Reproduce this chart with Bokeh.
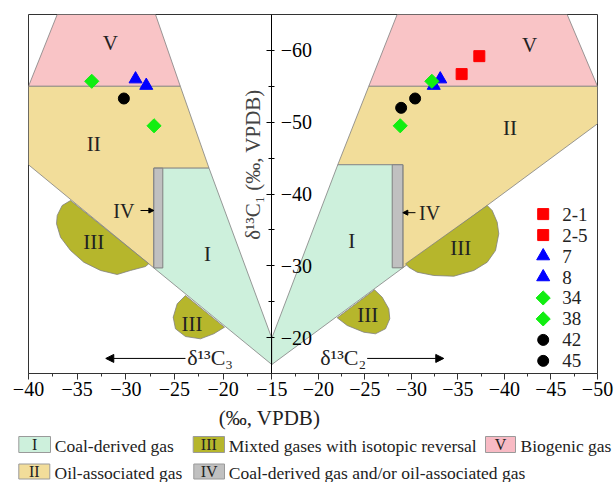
import numpy as np
from bokeh.plotting import figure
from bokeh.layouts import column
from bokeh.models import Range1d, FixedTicker, Label, Arrow, NormalHead, ColumnDataSource
from bokeh.core.properties import value
from bokeh.embed import file_html
from bokeh.resources import INLINE

FONT = "Liberation Serif"

# --- samples (per mil, VPDB) ---
samples = ["2-1", "2-5", "7", "8", "34", "38", "42", "45"]
d13c1 = [-56.7, -59.2, -56.0, -55.1, -55.7, -49.5, -53.3, -52.0]
d13c2 = [-35.4, -37.3, -33.1, -32.4, -32.2, -28.8, -30.4, -28.9]
d13c3 = [np.nan, np.nan, -29.0, -27.9, -33.5, -27.1, -30.2, np.nan]

# --- genetic zones, left panel: d13C3 vs d13C1 ---
vL_c3 = [-37.05, -26.95, -24.4, -40.0]
vL_c1 = [-65.0, -65.0, -55.0, -55.0]
iiL_c3 = [-40.0, -24.4, -21.45, -27.12, -27.12, -40.0]
iiL_c1 = [-55.0, -55.0, -43.6, -43.6, -29.7, -44.07]
iL_c3 = [-27.12, -21.45, -15.0, -15.0, -27.12]
iL_c1 = [-43.6, -43.6, -19.92, -16.25, -29.7]
ivL_c3 = [-27.12, -26.2]
ivL_c1 = [-43.6, -29.7]
iiiL1_c3 = [-35.68, -36.54, -37.05, -37.12, -36.71, -35.68, -34.32, -32.6, -30.89, -29.52, -27.98, -27.64]
iiiL1_c1 = [-39.09, -38.4, -37.01, -35.85, -33.98, -32.13, -30.5, -29.35, -28.79, -29.35, -29.9, -30.29]
iiiL2_c3 = [-23.87, -24.72, -25.13, -24.9, -23.87, -22.33, -20.96, -19.86]
iiiL2_c1 = [-25.86, -24.71, -22.84, -21.23, -20.15, -19.83, -20.53, -21.45]

# --- genetic zones, right panel: d13C2 vs d13C1 ---
vR_c2 = [-28.47, -46.74, -50.0, -25.42]
vR_c1 = [-65.0, -65.0, -55.0, -55.0]
iiR_c2 = [-25.42, -50.0, -50.0, -29.08, -29.08, -22.09]
iiR_c1 = [-55.0, -55.0, -49.78, -29.72, -44.07, -44.07]
iR_c2 = [-22.09, -29.08, -29.08, -15.0, -15.0]
iR_c1 = [-44.07, -44.07, -29.72, -16.25, -19.92]
ivR_c2 = [-27.94, -29.08]
ivR_c1 = [-44.07, -29.72]
iiiR1_c2 = [-29.37, -29.72, -30.62, -32.41, -34.56, -36.71, -38.15, -39.04, -39.39, -39.22, -38.68, -38.15]
iiiR1_c1 = [-30.28, -29.8, -29.11, -28.65, -28.55, -29.35, -30.5, -32.13, -34.46, -36.07, -37.7, -38.4]
iiiR2_c2 = [-26.04, -26.86, -27.57, -27.68, -27.22, -26.14, -24.89, -23.1, -22.03]
iiiR2_c1 = [-26.66, -25.63, -24.01, -22.62, -21.23, -20.53, -20.75, -21.69, -22.76]

# ticks
left_ticks = [-40, -35, -30, -25, -20, -15]
right_ticks = [-20, -25, -30, -35, -40, -45, -50]
y_ticks = [-20, -30, -40, -50, -60]
y_minor = [-25, -35, -45, -55]

# bottom legend
zone_numerals = ["I", "III", "V", "II", "IV"]
zone_names = ["Coal-derived gas", "Mixted gases with isotopic reversal", "Biogenic gas",
              "Oil-associated gas", "Coal-derived gas and/or oil-associated gas"]

C_I = "#CDF0DC"
C_II = "#F2DD9A"
C_III = "#B6B62C"
C_IV = "#C0C0C0"
C_V = "#F9C4C6"
zone_colors = [C_I, C_III, "#F8BAC4", C_II, C_IV]
EDGE = "#808080"

# composite x axis: left half is d13C3 (-40..-15), right half d13C2 (-15..-50)
SPLIT = 243.3
SL = SPLIT / 25.0
SR = 325.7 / 35.0
U_MAX = SPLIT + 35.0 * SR


def xl(v):
    return [(a + 40.0) * SL for a in np.atleast_1d(v)]


def xr(v):
    return [SPLIT + (-15.0 - a) * SR for a in np.atleast_1d(v)]


p = figure(width=614, height=406, x_range=Range1d(0, U_MAX), y_range=Range1d(-15, -65),
           output_backend="svg", toolbar_location=None, y_axis_location="right",
           min_border_left=28, min_border_right=17, min_border_top=14, min_border_bottom=33)
p.frame_align = False
p.grid.visible = False
p.outline_line_color = "#333333"
p.outline_line_width = 1

# x axis
xt = xl(left_ticks) + xr(right_ticks)
xm = xl([-37.5, -32.5, -27.5, -22.5, -17.5]) + xr([-17.5, -22.5, -27.5, -32.5, -37.5, -42.5, -47.5])
p.xaxis.ticker = FixedTicker(ticks=xt, minor_ticks=xm)
labs = {}
for u, v in zip(xt, left_ticks + right_ticks):
    labs[u] = "\u2212" + str(abs(v))
p.xaxis.major_label_overrides = labs
p.xaxis.major_tick_out = 6
p.xaxis.major_tick_in = 0
p.xaxis.minor_tick_out = 3
p.xaxis.minor_tick_in = 0
p.xaxis.major_label_standoff = 2
p.xaxis.axis_line_color = "#333333"
p.xaxis.major_tick_line_color = "#333333"
p.xaxis.minor_tick_line_color = "#333333"

# y axis on the split line
p.yaxis.fixed_location = SPLIT
p.yaxis.ticker = FixedTicker(ticks=y_ticks, minor_ticks=y_minor)
p.yaxis.major_label_overrides = {v: "\u2212" + str(abs(v)) for v in y_ticks}
p.yaxis.major_tick_in = 5
p.yaxis.major_tick_out = 3
p.yaxis.minor_tick_in = 3
p.yaxis.minor_tick_out = 3
p.yaxis.major_label_standoff = 6
p.yaxis.axis_line_color = "black"

for ax in (p.xaxis, p.yaxis):
    ax.major_label_text_font = FONT
    ax.major_label_text_font_size = "20px"
    ax.major_label_text_color = "black"

# zones
def zone(xs, ys, color):
    p.patch(xs, ys, fill_color=color, line_color=EDGE, line_width=0.8)

zone(xl(vL_c3), vL_c1, C_V)
zone(xl(iiL_c3), iiL_c1, C_II)
zone(xl(iL_c3), iL_c1, C_I)
zone(xl(iiiL1_c3), iiiL1_c1, C_III)
zone(xl(iiiL2_c3), iiiL2_c1, C_III)
zone(xr(vR_c2), vR_c1, C_V)
zone(xr(iiR_c2), iiR_c1, C_II)
zone(xr(iR_c2), iR_c1, C_I)
zone(xr(iiiR1_c2), iiiR1_c1, C_III)
zone(xr(iiiR2_c2), iiiR2_c1, C_III)

bx = xl(ivL_c3)
p.quad(left=bx[0], right=bx[1], top=ivL_c1[0], bottom=ivL_c1[1], fill_color=C_IV, line_color=EDGE)
bx = xr(ivR_c2)
p.quad(left=bx[0], right=bx[1], top=ivR_c1[0], bottom=ivR_c1[1], fill_color=C_IV, line_color=EDGE)


def lab(x, y, text, size="21px", align="center"):
    p.add_layout(Label(x=x, y=y, text=text, text_font=FONT, text_font_size=size,
                       text_align=align, text_baseline="middle", text_color="#222222"))

# zone numerals
lab(xl(-31.6)[0], -61.1, "V")
lab(xl(-33.3)[0], -46.9, "II")
lab(xl(-33.3)[0], -33.3, "III")
lab(xl(-21.6)[0], -31.6, "I")
lab(xl(-23.2)[0], -21.9, "III")
lab(xr(-42.7)[0], -60.7, "V")
lab(xr(-40.6)[0], -49.2, "II")
lab(xr(-23.6)[0], -33.5, "I")
lab(xr(-35.3)[0], -32.5, "III")
lab(xr(-25.3)[0], -23.1, "III")
lab(xl(-30.2)[0], -37.7, "IV", "20px")
lab(xr(-31.95)[0], -37.4, "IV", "20px")


def arrow(x0, x1, y, size):
    p.add_layout(Arrow(end=NormalHead(size=size, fill_color="black", line_color="black"),
                       x_start=x0, y_start=y, x_end=x1, y_end=y, line_color="black", line_width=1))

arrow(xl(-28.49)[0], xl(-27.12)[0], -37.7, 5)
arrow(xr(-30.44)[0], xr(-29.08)[0], -37.4, 5)
arrow(xl(-23.87)[0], xl(-32.06)[0], -17.1, 8)
arrow(xr(-25.25)[0], xr(-33.48)[0], -17.1, 8)
lab(xl(-23.7)[0], -17.2, "\u03b4\u00b9\u00b3C\u2083", "22px", "left")
lab(xr(-20.2)[0], -17.2, "\u03b4\u00b9\u00b3C\u2082", "22px", "left")

# y axis title
p.add_layout(Label(x=SPLIT, y=-44.1, x_offset=-19, text="\u03b4\u00b9\u00b3C\u2081 (\u2030, VPDB)",
                   angle=90, angle_units="deg", text_font=FONT, text_font_size="21px",
                   text_align="center", text_baseline="middle"))

# sample points
m_type = ["square", "square", "triangle", "triangle", "square", "square", "circle", "circle"]
m_angle = [0, 0, 0, 0, np.pi / 4, np.pi / 4, 0, 0]
m_color = ["#FF0000", "#FF0000", "#0000FF", "#0000FF", "#11EE11", "#11EE11", "black", "black"]
m_size = [11, 11, 13, 13, 10, 10, 11, 11]

right = ColumnDataSource(dict(x=xr(d13c2), y=d13c1, m=m_type, a=m_angle, c=m_color, s=m_size))
keep = [i for i in range(len(samples)) if not np.isnan(d13c3[i])]
left = ColumnDataSource(dict(x=xl([d13c3[i] for i in keep]), y=[d13c1[i] for i in keep],
                             m=[m_type[i] for i in keep], a=[m_angle[i] for i in keep],
                             c=[m_color[i] for i in keep], s=[m_size[i] for i in keep]))
for src in (left, right):
    p.scatter(x="x", y="y", marker="m", angle="a", size="s", fill_color="c", line_color="c", source=src)

# sample legend
ly = [-37.2 + 2.92 * i for i in range(len(samples))]
leg_src = ColumnDataSource(dict(x=[514.7] * len(samples), y=ly, m=m_type, a=m_angle, c=m_color,
                                s=m_size, t=samples, tx=[533.7] * len(samples)))
p.scatter(x="x", y="y", marker="m", angle="a", size="s", fill_color="c", line_color="c", source=leg_src)
p.text(x="tx", y="y", text="t", source=leg_src, text_font=value(FONT), text_font_size="19px",
       text_baseline="middle", text_align="left", text_color="#222222")

# x axis title and zone legend below (coordinates in page pixels)
lg = figure(width=614, height=76, x_range=Range1d(0, 614), y_range=Range1d(76, 0),
            output_backend="svg", toolbar_location=None, x_axis_type=None, y_axis_type=None,
            min_border=0)
lg.frame_align = False
lg.outline_line_color = None
lg.grid.visible = False
lg.text(x=[269], y=[11], text=["(\u2030, VPDB)"], text_font=value(FONT), text_font_size="21px",
        text_align="center", text_baseline="middle", text_color="#222222")
box_l = [18.3, 192.7, 485, 18.3, 193.3]
box_r = [50, 224, 515, 49.3, 224]
row_y = [38, 38, 38, 65, 65]
half_h = [8, 8, 8, 7.5, 7.5]
text_x = [54.3, 228.3, 520, 54, 228.3]
lg.quad(left=box_l, right=box_r, top=[y - h for y, h in zip(row_y, half_h)],
        bottom=[y + h for y, h in zip(row_y, half_h)], fill_color=zone_colors, line_color="#9a9a9a")
lg.text(x=[(a + b) / 2 for a, b in zip(box_l, box_r)], y=row_y, text=zone_numerals,
        text_font=value(FONT), text_font_size="16px", text_align="center", text_baseline="middle",
        text_color="#222222")
lg.text(x=text_x, y=[y + 1 for y in row_y], text=zone_names, text_font=value(FONT),
        text_font_size="17.5px", text_align="left", text_baseline="middle", text_color="#222222")

layout = column(p, lg, spacing=0)
open("out.html", "w").write(file_html(layout, INLINE))
